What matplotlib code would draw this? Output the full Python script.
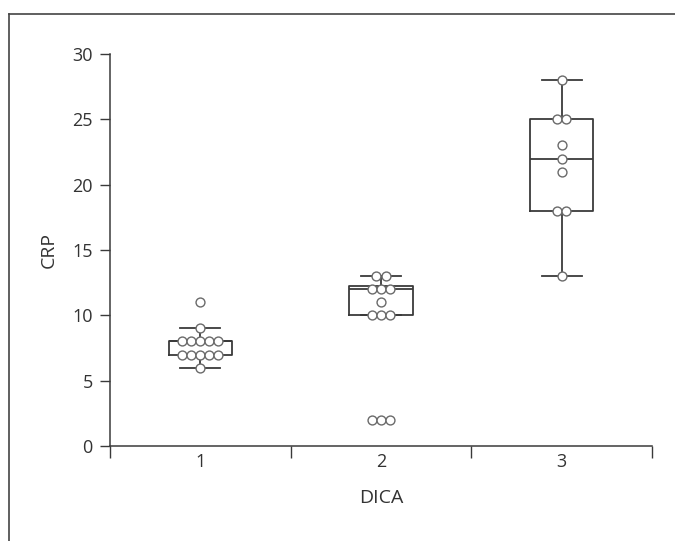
import numpy as np
import matplotlib
matplotlib.use("Agg")
import matplotlib.pyplot as plt
from matplotlib.lines import Line2D

plt.rcParams["font.family"] = ["Open Sans", "DejaVu Sans"]

# data
groups = ["1", "2", "3"]
crp_1 = [11, 9, 8, 8, 8, 8, 8, 7, 7, 7, 7, 7, 6]
crp_2 = [13, 13, 12, 12, 12, 11, 10, 10, 10, 2, 2, 2]
crp_3 = [28, 25, 25, 23, 22, 21, 18, 18, 13]
values = [crp_1, crp_2, crp_3]

# box statistics as drawn in the reference
q1 = [7, 10, 18]
med = [8, 12, 22]
q3 = [8, 12.25, 25]
whis_lo = [6, 10, 13]
whis_hi = [9, 13, 28]

TEXT = "#333333"
LINE = "#3a3a3a"

fig = plt.figure(figsize=(6.75, 5.41), dpi=100)
ax = fig.add_axes([110 / 675, 1 - 446 / 541, 542 / 675, 392 / 541])

stats = [dict(q1=a, med=m, q3=b, whislo=lo, whishi=hi, fliers=[])
         for a, m, b, lo, hi in zip(q1, med, q3, whis_lo, whis_hi)]
pos = np.arange(1, len(groups) + 1)
line_kw = dict(color=LINE, linewidth=1.3)
ax.bxp(stats, positions=pos, widths=0.35, showfliers=False,
       boxprops=line_kw, whiskerprops=line_kw, capprops=line_kw,
       medianprops=line_kw, capwidths=0.22, manage_ticks=False, zorder=2)

# swarm-style layout: identical values sit side by side
step = 0.05
for p, vals in zip(pos, values):
    vals = np.array(vals)
    for v in np.unique(vals):
        n = int((vals == v).sum())
        xs = p + (np.arange(n) - (n - 1) / 2) * step
        ax.plot(xs, [v] * n, "o", ms=6.4, mfc="white", mec="#6a6a6a",
                mew=1.0, zorder=3, clip_on=False)

ax.set_xlim(0.5, 3.5)
ax.set_ylim(0, 30)
ax.set_yticks([0, 5, 10, 15, 20, 25, 30])
ax.set_xticks(pos)
ax.set_xticklabels(groups)
ax.set_xticks([0.5, 1.5, 2.5, 3.5], minor=True)
ax.tick_params(axis="x", which="major", length=0, pad=5, labelsize=13,
               labelcolor=TEXT)
ax.tick_params(axis="x", which="minor", length=8.5, width=1, color=LINE,
               direction="out")
ax.tick_params(axis="y", length=7.5, width=1, color=LINE, pad=5,
               labelsize=13, labelcolor=TEXT)

for s in ["top", "right"]:
    ax.spines[s].set_visible(False)
for s in ["left", "bottom"]:
    ax.spines[s].set_color(LINE)
    ax.spines[s].set_linewidth(1.1)

ax.set_xlabel("DICA", fontsize=14, color=TEXT)
ax.xaxis.set_label_coords(0.5, (446 - 498) / 392)
ax.xaxis.label.set_va("center")
ax.set_ylabel("CRP", fontsize=14, color=TEXT)
ax.yaxis.set_label_coords((49 - 110) / 542, 0.5)
ax.yaxis.label.set_va("center")

# outer frame (left and top edges only)
x0 = 8.5 / 675
y0 = 1 - 14 / 541
fig.add_artist(Line2D([x0, x0], [0, y0], color="#444444", lw=1.2))
fig.add_artist(Line2D([x0, 1], [y0, y0], color="#444444", lw=1.2))

fig.savefig("out.png", dpi=100)
